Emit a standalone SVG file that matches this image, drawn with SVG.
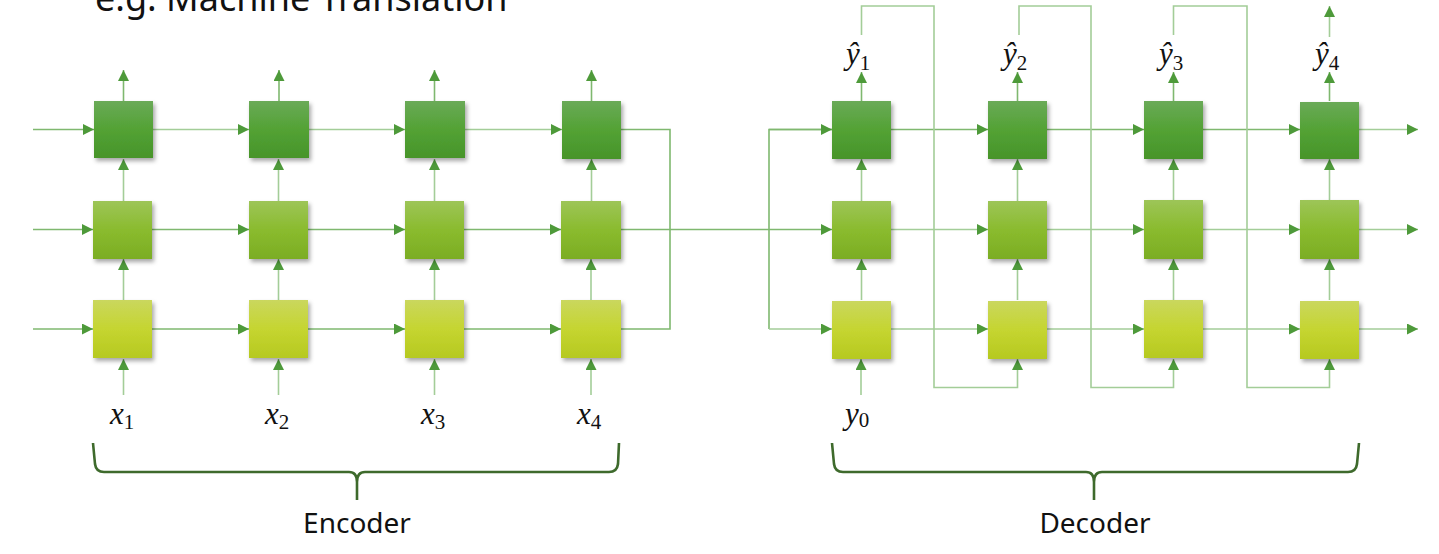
<svg xmlns="http://www.w3.org/2000/svg" width="1439" height="554" viewBox="0 0 1439 554">
<defs>
<style>
.ln{fill:none;stroke:#7fb86f;stroke-width:1.6}
.lt{fill:none;stroke:#a3cd98;stroke-width:1.6}
.br{fill:none;stroke:#3e6a2c;stroke-width:2.6;stroke-linejoin:round}
.t{font-family:"Noto Sans","Open Sans","Liberation Sans",sans-serif;fill:#111}
.m{font-family:"Liberation Serif","DejaVu Serif",serif;font-style:italic;font-size:31px;fill:#111}
.sub{font-style:normal;font-size:21px}
.top{fill:url(#gTop);filter:url(#sh)}
.mid{fill:url(#gMid);filter:url(#sh)}
.bot{fill:url(#gBot);filter:url(#sh)}
</style>
<linearGradient id="gTop" x1="0" y1="0" x2="0" y2="1">
<stop offset="0" stop-color="#6aaa58"/><stop offset="0.5" stop-color="#53a234"/><stop offset="1" stop-color="#47942a"/>
</linearGradient>
<linearGradient id="gMid" x1="0" y1="0" x2="0" y2="1">
<stop offset="0" stop-color="#9dc558"/><stop offset="0.5" stop-color="#8abb2e"/><stop offset="1" stop-color="#7bad24"/>
</linearGradient>
<linearGradient id="gBot" x1="0" y1="0" x2="0" y2="1">
<stop offset="0" stop-color="#cad75e"/><stop offset="0.5" stop-color="#c5d530"/><stop offset="1" stop-color="#b6c921"/>
</linearGradient>
<filter id="sh" x="-20%" y="-20%" width="150%" height="150%">
<feDropShadow dx="2" dy="3" stdDeviation="2" flood-color="#000" flood-opacity="0.35"/>
</filter>
<marker id="ah" viewBox="0 0 10 10" refX="10" refY="5" markerWidth="11" markerHeight="11" markerUnits="userSpaceOnUse" orient="auto">
<path d="M0,0 L10,5 L0,10 z" fill="#4e9a3a"/>
</marker>
</defs>
<rect width="1439" height="554" fill="#fff"/>

<text class="t" x="95" y="11" font-size="36">e.g. Machine Translation</text>

<g id="connectors">
<path class="ln" d="M33,129.5 H94" marker-end="url(#ah)"/>
<path class="ln" d="M33,229.5 H93" marker-end="url(#ah)"/>
<path class="ln" d="M33,329 H93" marker-end="url(#ah)"/>
<path class="lt" d="M153,129.5 H249" marker-end="url(#ah)"/>
<path class="lt" d="M309,129.5 H405" marker-end="url(#ah)"/>
<path class="lt" d="M465,129.5 H562" marker-end="url(#ah)"/>
<path class="ln" d="M152,229.5 H249" marker-end="url(#ah)"/>
<path class="ln" d="M308,229.5 H405" marker-end="url(#ah)"/>
<path class="ln" d="M464,229.5 H561" marker-end="url(#ah)"/>
<path class="ln" d="M152,329 H249" marker-end="url(#ah)"/>
<path class="ln" d="M308,329 H405" marker-end="url(#ah)"/>
<path class="ln" d="M464,329 H561" marker-end="url(#ah)"/>
<path class="lt" d="M123.5,395 V359" marker-end="url(#ah)"/>
<path class="lt" d="M278.5,395 V359" marker-end="url(#ah)"/>
<path class="lt" d="M434.5,395 V359" marker-end="url(#ah)"/>
<path class="lt" d="M591,395 V359" marker-end="url(#ah)"/>
<path class="lt" d="M123.5,300 V259" marker-end="url(#ah)"/>
<path class="lt" d="M278.5,300 V259" marker-end="url(#ah)"/>
<path class="lt" d="M434.5,300 V259" marker-end="url(#ah)"/>
<path class="lt" d="M591,300 V259" marker-end="url(#ah)"/>
<path class="lt" d="M123.5,201 V159" marker-end="url(#ah)"/>
<path class="lt" d="M278.5,201 V159" marker-end="url(#ah)"/>
<path class="lt" d="M434.5,201 V159" marker-end="url(#ah)"/>
<path class="lt" d="M591.5,201 V159" marker-end="url(#ah)"/>
<path class="ln" d="M123.5,101 V70" marker-end="url(#ah)"/>
<path class="ln" d="M279,101 V70" marker-end="url(#ah)"/>
<path class="ln" d="M434.5,101 V70" marker-end="url(#ah)"/>
<path class="ln" d="M591.5,101 V70" marker-end="url(#ah)"/>
<path class="ln" d="M621,129.5 H670 V329 H621"/>
<path class="ln" d="M621,229.5 H832" marker-end="url(#ah)"/>
<path class="ln" d="M832,129.5 H769 V329"/>
<path class="ln" d="M769,129.5 H832" marker-end="url(#ah)"/>
<path class="lt" d="M769,329 H832" marker-end="url(#ah)"/>
<path class="ln" d="M891,129.5 H988" marker-end="url(#ah)"/>
<path class="ln" d="M1047,129.5 H1144" marker-end="url(#ah)"/>
<path class="ln" d="M1203,129.5 H1300" marker-end="url(#ah)"/>
<path class="lt" d="M1359,129.5 H1418" marker-end="url(#ah)"/>
<path class="lt" d="M891,229.5 H988" marker-end="url(#ah)"/>
<path class="lt" d="M1047,229.5 H1144" marker-end="url(#ah)"/>
<path class="lt" d="M1203,229.5 H1300" marker-end="url(#ah)"/>
<path class="lt" d="M1359,229.5 H1418" marker-end="url(#ah)"/>
<path class="lt" d="M891,329 H988" marker-end="url(#ah)"/>
<path class="lt" d="M1047,329 H1144" marker-end="url(#ah)"/>
<path class="lt" d="M1203,329 H1300" marker-end="url(#ah)"/>
<path class="lt" d="M1359,329 H1418" marker-end="url(#ah)"/>
<path class="lt" d="M861,395 V359" marker-end="url(#ah)"/>
<path class="lt" d="M861.5,300 V259" marker-end="url(#ah)"/>
<path class="lt" d="M1017.5,300 V259" marker-end="url(#ah)"/>
<path class="lt" d="M1173.5,300 V259" marker-end="url(#ah)"/>
<path class="lt" d="M1329.5,300 V259" marker-end="url(#ah)"/>
<path class="lt" d="M861.5,201 V159" marker-end="url(#ah)"/>
<path class="lt" d="M1017.5,201 V159" marker-end="url(#ah)"/>
<path class="lt" d="M1173.5,201 V159" marker-end="url(#ah)"/>
<path class="lt" d="M1329.5,201 V159" marker-end="url(#ah)"/>
<path class="ln" d="M861.5,101 V72" marker-end="url(#ah)"/>
<path class="ln" d="M1017.5,101 V72" marker-end="url(#ah)"/>
<path class="ln" d="M1173.5,101 V72" marker-end="url(#ah)"/>
<path class="ln" d="M1329.5,101 V72" marker-end="url(#ah)"/>
<path class="lt" d="M1329.5,37 V6" marker-end="url(#ah)"/>
<path class="lt" d="M861.5,35 V6 H934 V387.5 H1017.5 V359" marker-end="url(#ah)"/>
<path class="lt" d="M1019,35 V6 H1091 V387.5 H1173.5 V359" marker-end="url(#ah)"/>
<path class="lt" d="M1173.5,35 V6 H1247 V387.5 H1329.5 V359" marker-end="url(#ah)"/>
</g>

<g id="enc1-top"><rect class="top" x="94" y="101" width="59" height="57"/></g>
<g id="enc2-top"><rect class="top" x="249" y="101" width="60" height="57"/></g>
<g id="enc3-top"><rect class="top" x="405" y="101" width="60" height="57"/></g>
<g id="enc4-top"><rect class="top" x="562" y="101" width="59" height="58"/></g>
<g id="enc1-mid"><rect class="mid" x="93" y="201" width="59" height="58"/></g>
<g id="enc2-mid"><rect class="mid" x="249" y="201" width="59" height="58"/></g>
<g id="enc3-mid"><rect class="mid" x="405" y="201" width="59" height="58"/></g>
<g id="enc4-mid"><rect class="mid" x="561" y="201" width="60" height="58"/></g>
<g id="enc1-bot"><rect class="bot" x="93" y="300" width="59" height="58"/></g>
<g id="enc2-bot"><rect class="bot" x="249" y="300" width="59" height="58"/></g>
<g id="enc3-bot"><rect class="bot" x="405" y="300" width="59" height="58"/></g>
<g id="enc4-bot"><rect class="bot" x="561" y="300" width="60" height="58"/></g>

<g id="dec1-top"><rect class="top" x="832" y="101" width="59" height="58"/></g>
<g id="dec2-top"><rect class="top" x="988" y="101" width="59" height="58"/></g>
<g id="dec3-top"><rect class="top" x="1144" y="101" width="59" height="58"/></g>
<g id="dec4-top"><rect class="top" x="1300" y="102" width="59" height="57"/></g>
<g id="dec1-mid"><rect class="mid" x="832" y="201" width="59" height="58"/></g>
<g id="dec2-mid"><rect class="mid" x="988" y="201" width="59" height="58"/></g>
<g id="dec3-mid"><rect class="mid" x="1144" y="200" width="59" height="59"/></g>
<g id="dec4-mid"><rect class="mid" x="1300" y="200" width="59" height="59"/></g>
<g id="dec1-bot"><rect class="bot" x="832" y="301" width="59" height="58"/></g>
<g id="dec2-bot"><rect class="bot" x="988" y="301" width="59" height="58"/></g>
<g id="dec3-bot"><rect class="bot" x="1144" y="300" width="59" height="58"/></g>
<g id="dec4-bot"><rect class="bot" x="1300" y="301" width="59" height="58"/></g>

<g id="labels">
<text class="m" x="110" y="424">x<tspan class="sub" dy="5">1</tspan></text>
<text class="m" x="265" y="424">x<tspan class="sub" dy="5">2</tspan></text>
<text class="m" x="421" y="424">x<tspan class="sub" dy="5">3</tspan></text>
<text class="m" x="577" y="424">x<tspan class="sub" dy="5">4</tspan></text>
<text class="m" x="845" y="424">y<tspan class="sub" dy="3">0</tspan></text>
<text class="m" x="846" y="64">ŷ<tspan class="sub" dy="6">1</tspan></text>
<text class="m" x="1003" y="64">ŷ<tspan class="sub" dy="6">2</tspan></text>
<text class="m" x="1159" y="64">ŷ<tspan class="sub" dy="6">3</tspan></text>
<text class="m" x="1315" y="64">ŷ<tspan class="sub" dy="6">4</tspan></text>
</g>

<g id="encoder-brace">
<path class="br" d="M93,443 L95,464 Q96,472 104,472 H349 Q357,472 357,482 V500 M357,482 Q357,472 365,472 H609 Q617,472 618,464 L619,443"/>
<text class="t" x="357" y="533" font-size="28" text-anchor="middle">Encoder</text>
</g>
<g id="decoder-brace">
<path class="br" d="M832,443 L834,464 Q835,472 843,472 H1086 Q1094,472 1094,482 V500 M1094,482 Q1094,472 1102,472 H1348 Q1356,472 1357,464 L1359,443"/>
<text class="t" x="1095" y="533" font-size="28" text-anchor="middle">Decoder</text>
</g>
</svg>
